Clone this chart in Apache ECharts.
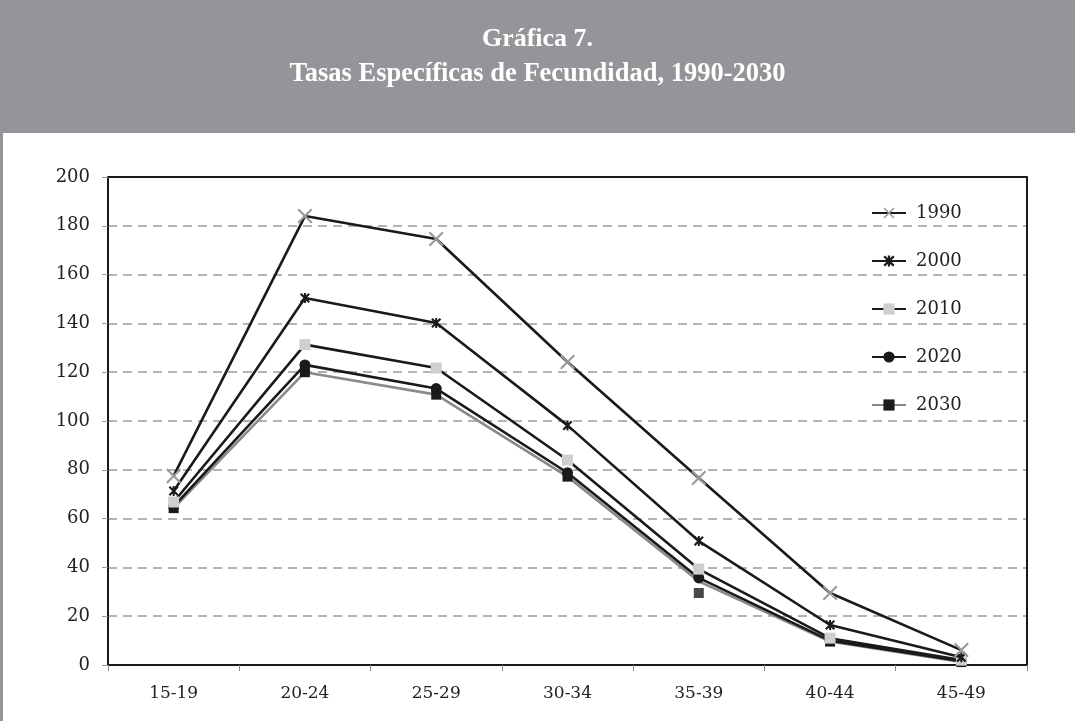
<!DOCTYPE html>
<html>
<head>
<meta charset="utf-8">
<script src="https://cdn.jsdelivr.net/npm/echarts@6/dist/echarts.min.js"></script>
<style>
html,body{margin:0;padding:0;background:#fff;}
#c{width:1075px;height:721px;}
</style>
</head>
<body>
<div id="c"></div>
<script>
const titleLine1 = 'Gráfica 7.';
const titleLine2 = 'Tasas Específicas de Fecundidad, 1990-2030';
const categories = ['15-19','20-24','25-29','30-34','35-39','40-44','45-49'];
const seriesNames = ['1990','2000','2010','2020','2030'];
const s1990 = [77.5, 184.0, 174.6, 124.2, 76.6, 29.5, 6.1];
const s2000 = [71.3, 150.4, 140.2, 98.2, 50.8, 16.4, 3.2];
const s2010 = [66.8, 131.3, 121.7, 84.0, 39.3, 11.0, 2.0];
const s2020 = [65.0, 123.0, 113.3, 78.8, 35.7, 10.0, 1.5];
const s2030 = [64.3, 120.0, 110.8, 77.2, 34.3, 9.6, 1.2];
const marker2030 = [null, null, null, null, 29.5, null, null];
const yTicks = [0, 20, 40, 60, 80, 100, 120, 140, 160, 180, 200];

const serif = '"DejaVu Serif", serif';
const crossPath = 'path://M0,1L1,0L5,4L9,0L10,1L6,5L10,9L9,10L5,6L1,10L0,9L4,5Z';
const starPath = 'path://M0,1.5L1.5,0L5,3.5L8.5,0L10,1.5L6.5,5L10,8.5L8.5,10L5,6.5L1.5,10L0,8.5L3.5,5Z M4,0L6,0L6,10L4,10Z';

const seriesStyle = [
  {data: s1990, line: '#1a1a1a', sym: crossPath, symSize: 15, fill: '#9a9a9a'},
  {data: s2000, line: '#1a1a1a', sym: starPath, symSize: 10, fill: '#1a1a1a'},
  {data: s2010, line: '#1a1a1a', sym: 'rect', symSize: 11, fill: '#cfcfcf'},
  {data: s2020, line: '#1a1a1a', sym: 'circle', symSize: 11, fill: '#1a1a1a'},
  {data: s2030, line: '#8a8a8a', sym: 'rect', symSize: 10, fill: '#1a1a1a'}
];

const series = seriesStyle.map((s, i) => ({
  name: seriesNames[i],
  type: 'line',
  data: s.data.map((v, j) => (i === 4 && marker2030[j] != null) ? {value: v, symbol: 'none'} : v),
  symbol: s.sym,
  symbolSize: s.symSize,
  showAllSymbol: true,
  lineStyle: {color: s.line, width: 2.6},
  itemStyle: {color: s.fill},
  z: 10 - i,
  emphasis: {disabled: true},
  animation: false
}));
series.push({
  name: '2030m',
  type: 'scatter',
  data: marker2030,
  symbol: 'rect',
  symbolSize: 10,
  itemStyle: {color: '#1a1a1a'},
  animation: false
});

const chart = echarts.init(document.getElementById('c'), null, {renderer: 'canvas'});
chart.setOption({
  backgroundColor: '#fff',
  animation: false,
  graphic: [
    {type: 'rect', shape: {x: 0, y: 0, width: 1075, height: 133}, style: {fill: '#939598'}, z: -10},
    {type: 'rect', shape: {x: 0, y: 133, width: 3, height: 588}, style: {fill: '#939598'}, z: -10},
    {type: 'rect', shape: {x: 108, y: 176, width: 919, height: 2}, style: {fill: '#1a1a1a'}, z: 50},
    {type: 'text', left: 'center', top: 26, style: {text: titleLine1, fill: '#fff', font: 'bold 26px "Liberation Serif", serif', textAlign: 'center'}},
    {type: 'text', left: 'center', top: 61, style: {text: titleLine2, fill: '#fff', font: 'bold 26.5px "Liberation Serif", serif', textAlign: 'center'}}
  ],
  legend: {
    orient: 'vertical',
    left: 866,
    top: 199,
    itemWidth: 34,
    itemHeight: 14,
    itemGap: 30,
    data: seriesNames,
    textStyle: {fontFamily: serif, fontSize: 18, color: '#222', padding: [0, 0, 0, 5]}
  },
  grid: {
    left: 108, right: 48, top: 177, bottom: 56,
    show: false
  },
  xAxis: [{
    type: 'category',
    data: categories,
    boundaryGap: true,
    axisLine: {lineStyle: {color: '#1a1a1a', width: 2}},
    axisTick: {show: true, length: 6, lineStyle: {color: '#888'}, alignWithLabel: false},
    axisLabel: {fontFamily: serif, fontSize: 17, color: '#222', margin: 20}
  }],
  yAxis: [{
    type: 'value',
    min: 0, max: 200, interval: 20,
    axisLine: {show: true, lineStyle: {color: '#1a1a1a', width: 2}},
    axisTick: {show: true, length: 6, lineStyle: {color: '#999'}},
    axisLabel: {fontFamily: serif, fontSize: 18, color: '#222', margin: 18,
      formatter: v => yTicks.includes(v) ? String(v) : ''},
    splitLine: {show: true, lineStyle: {color: '#9a9a9a', width: 1.5, type: [9, 6]}}
  }, {
    type: 'value',
    min: 0, max: 200, interval: 20,
    position: 'right',
    axisLine: {show: true, lineStyle: {color: '#1a1a1a', width: 2}},
    axisTick: {show: false},
    axisLabel: {show: false},
    splitLine: {show: false}
  }],
  series: series
});
</script>
</body>
</html>
